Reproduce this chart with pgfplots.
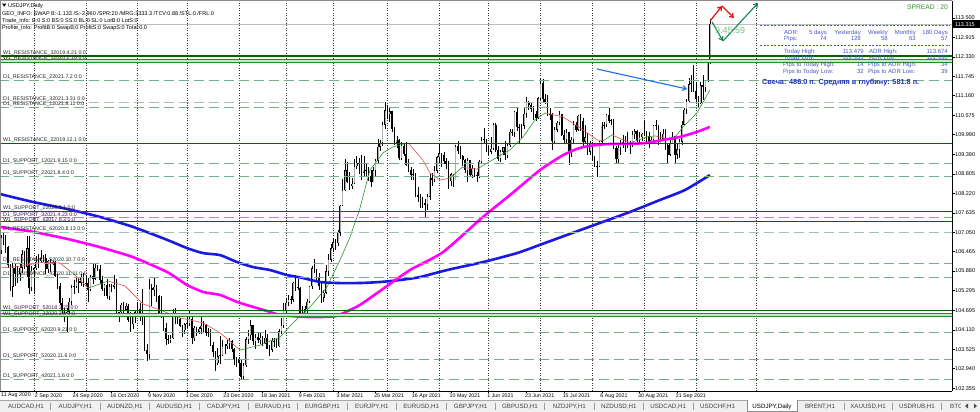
\documentclass[border=0pt]{standalone}
\usepackage{fontspec}
\setmainfont{Liberation Sans}
\usepackage{pgfplots}
\usepackage{pgfplotstable}
\pgfplotsset{compat=1.18}
\usetikzlibrary{arrows.meta}

\definecolor{wone}{RGB}{0,100,0}
\definecolor{wband}{RGB}{200,230,200}
\definecolor{wbandline}{RGB}{40,140,40}
\definecolor{done}{RGB}{115,175,135}
\definecolor{maBlue}{RGB}{25,25,225}
\definecolor{maMag}{RGB}{255,0,255}
\definecolor{thinRed}{RGB}{225,80,80}
\definecolor{thinGreen}{RGB}{40,150,40}
\definecolor{panel}{RGB}{75,90,195}
\definecolor{candleTxt}{RGB}{30,45,185}
\definecolor{spread}{RGB}{50,150,50}
\definecolor{timer}{RGB}{120,195,130}
\definecolor{tabbg}{RGB}{240,240,240}
\definecolor{arrowBlue}{RGB}{30,110,235}
\definecolor{arrowRed}{RGB}{225,20,20}
\definecolor{arrowGreen}{RGB}{25,130,80}
\definecolor{lbltxt}{RGB}{35,35,35}
\definecolor{bull}{RGB}{175,175,175}

\newcommand{\fs}[1]{\fontsize{#1}{#1}\selectfont}

\tikzset{
  w1/.style={color=wone, line width=1.1pt},
  wb/.style={color=wbandline, line width=0.8pt},
  d1/.style={color=done, line width=0.9pt, dash pattern=on 10pt off 5pt},
  lbl/.style={anchor=base west, inner sep=0pt, font=\fs{5.3}, text=lbltxt},
  pnl/.style={inner sep=0pt, font=\fs{6}, text=panel},
  tab/.style={anchor=base, inner sep=0pt, font=\fs{6.2}, text=black!75},
}

% USDJPY daily, 11 Aug 2020 .. 11 Oct 2021 (bar index, open, high, low, close)
\pgfplotstableread{
i o h l c
0 105.93 106.68 105.85 106.49
1 106.49 106.98 106.38 106.88
2 106.88 107.05 106.67 106.92
3 106.92 106.96 106.43 106.60
4 106.60 106.62 105.98 106.05
5 106.05 106.09 105.27 105.40
6 105.40 106.13 105.10 105.98
7 105.98 106.08 105.42 105.78
8 105.78 106.04 105.53 105.80
9 105.80 106.11 105.58 105.98
10 105.98 106.50 105.82 106.38
11 106.38 106.47 105.94 106.01
12 106.01 106.94 105.70 106.57
13 106.57 106.95 105.20 105.37
14 105.37 106.02 105.28 105.90
15 105.90 106.00 105.19 105.96
16 105.96 106.34 105.91 106.16
17 106.16 106.38 105.98 106.18
18 106.18 106.51 106.13 106.26
19 106.26 106.35 106.15 106.26
20 106.26 106.38 105.78 105.93
21 105.93 106.21 105.81 106.19
22 106.19 106.25 105.85 106.15
23 106.15 106.18 106.05 106.14
24 106.14 106.17 105.71 105.72
25 105.72 105.79 105.34 105.44
26 105.44 105.51 104.86 104.92
27 104.92 105.06 104.52 104.72
28 104.72 104.77 104.36 104.57
29 104.57 104.77 104.00 104.66
30 104.66 105.08 104.63 104.95
31 104.95 105.46 104.86 105.39
32 105.39 105.61 105.19 105.42
33 105.42 105.70 105.36 105.58
34 105.58 105.68 105.22 105.53
35 105.53 105.80 105.44 105.70
36 105.70 105.81 105.41 105.48
37 105.48 105.72 105.39 105.52
38 105.52 105.68 104.94 105.32
39 105.32 105.77 105.29 105.73
40 105.73 106.11 105.49 105.65
41 105.65 106.11 105.62 105.98
42 105.98 106.05 105.88 105.95
43 105.95 106.06 105.50 105.61
44 105.61 105.74 105.29 105.35
45 105.35 105.50 105.14 105.47
46 105.47 105.63 105.04 105.12
47 105.12 105.48 105.02 105.40
48 105.40 105.50 105.25 105.40
49 105.40 105.75 105.33 105.47
50 105.47 105.63 104.54 104.55
51 104.55 104.64 104.34 104.64
52 104.64 104.93 104.62 104.87
53 104.87 104.95 104.58 104.71
54 104.71 104.93 104.70 104.84
55 104.84 104.88 104.36 104.42
56 104.42 104.66 104.05 104.28
57 104.28 104.59 104.14 104.62
58 104.62 104.68 104.31 104.66
59 104.66 104.94 104.52 104.73
60 104.73 104.92 104.37 104.51
61 104.51 105.34 104.25 104.53
62 104.53 104.59 103.46 103.51
63 103.51 103.67 103.18 103.38
64 103.38 105.65 103.19 105.36
65 105.36 105.48 104.84 105.30
66 105.30 105.68 105.12 105.41
67 105.41 105.46 104.94 105.13
68 105.13 105.17 104.58 104.63
69 104.63 105.14 104.48 104.58
70 104.58 104.62 104.07 104.18
71 104.18 104.33 103.65 103.82
72 103.82 103.96 103.69 103.80
73 103.80 103.95 103.70 103.86
74 103.86 104.74 103.83 104.56
75 104.56 104.76 104.29 104.46
76 104.46 104.59 104.30 104.44
77 104.44 104.47 104.20 104.24
78 104.24 104.27 103.88 104.09
79 104.09 104.32 103.97 104.28
80 104.28 104.55 104.17 104.31
81 104.31 104.69 104.22 104.45
82 104.45 104.52 103.68 103.86
83 103.86 104.22 103.78 104.17
84 104.17 104.21 103.93 104.05
85 104.05 104.21 103.98 104.14
86 104.14 104.54 103.99 104.23
87 104.23 104.38 104.03 104.27
88 104.27 104.30 103.92 104.01
89 104.01 104.17 103.89 104.05
90 104.05 104.14 103.62 103.65
91 103.65 103.75 103.29 103.45
92 103.45 103.48 102.88 103.11
93 103.11 103.57 103.06 103.32
94 103.32 103.91 103.09 103.34
95 103.34 103.80 103.31 103.62
96 103.62 103.69 103.38 103.62
97 103.62 103.80 103.52 103.69
98 103.69 103.87 103.53 103.78
99 103.78 103.81 103.45 103.54
100 103.54 103.56 103.04 103.21
101 103.21 103.28 102.98 103.23
102 103.23 103.28 102.71 103.12
103 103.12 103.19 102.61 102.70
104 102.70 103.10 102.59 103.04
105 103.04 103.88 102.98 103.82
106 103.82 104.09 103.68 103.94
107 103.94 104.40 103.81 104.25
108 104.25 104.26 103.64 103.76
109 103.76 103.97 103.54 103.88
110 103.88 104.05 103.71 103.79
111 103.79 104.00 103.67 103.87
112 103.87 103.92 103.62 103.70
113 103.70 104.09 103.68 103.87
114 103.87 103.98 103.54 103.54
115 103.54 103.66 103.33 103.51
116 103.51 103.86 103.43 103.78
117 103.78 103.85 103.60 103.75
118 103.75 103.86 103.55 103.61
119 103.61 104.13 103.59 104.06
120 104.06 104.46 103.98 104.23
121 104.23 104.93 104.17 104.68
122 104.68 105.07 104.63 104.93
123 104.93 105.15 104.84 105.03
124 105.03 105.12 104.90 105.01
125 105.01 105.56 104.94 105.53
126 105.53 105.77 105.28 105.39
127 105.39 105.65 105.30 105.37
128 105.37 105.40 104.55 104.60
129 104.60 104.82 104.52 104.57
130 104.57 104.84 104.50 104.73
131 104.73 105.04 104.63 104.95
132 104.95 105.44 104.93 105.42
133 105.42 106.04 105.33 105.97
134 105.97 106.23 105.81 105.88
135 105.88 105.95 105.59 105.69
136 105.69 105.81 105.31 105.43
137 105.43 105.56 104.92 105.07
138 105.07 105.31 104.96 105.22
139 105.22 106.06 105.19 105.87
140 105.87 106.39 105.73 106.22
141 106.22 106.69 106.15 106.57
142 106.57 106.88 106.44 106.75
143 106.75 106.85 106.51 106.72
144 106.72 107.12 106.62 107.03
145 107.03 107.88 106.94 107.85
146 107.85 108.64 107.83 108.31
147 108.31 109.24 108.29 108.92
148 108.92 109.15 108.54 108.57
149 108.57 108.86 108.33 108.44
150 108.44 108.69 108.35 108.51
151 108.51 109.24 108.50 109.04
152 109.04 109.35 108.95 109.14
153 109.14 109.28 108.81 109.12
154 109.12 109.38 108.61 108.84
155 108.84 109.35 108.74 108.93
156 108.93 109.12 108.75 108.88
157 108.88 109.01 108.60 108.73
158 108.73 108.93 108.41 108.56
159 108.56 109.01 108.55 108.91
160 108.91 109.26 108.75 109.20
161 109.20 109.85 109.09 109.62
162 109.62 109.84 109.50 109.75
163 109.75 110.38 109.66 110.28
164 110.28 110.97 110.15 110.72
165 110.72 110.88 110.47 110.60
166 110.60 110.78 110.36 110.69
167 110.69 110.70 110.08 110.17
168 110.17 110.22 109.68 109.74
169 109.74 109.96 109.60 109.84
170 109.84 109.85 109.23 109.27
171 109.27 109.78 109.21 109.65
172 109.65 109.75 109.33 109.40
173 109.40 109.77 109.03 109.07
174 109.07 109.26 108.87 108.92
175 108.92 109.00 108.61 108.77
176 108.77 108.96 108.61 108.79
177 108.79 108.83 108.10 108.16
178 108.16 108.40 107.97 108.11
179 108.11 108.19 107.78 108.09
180 108.09 108.12 107.78 107.94
181 107.94 108.04 107.48 107.88
182 107.88 108.19 107.71 108.12
183 108.12 108.80 108.03 108.69
184 108.69 108.83 108.45 108.63
185 108.63 109.03 108.55 108.90
186 108.90 109.35 108.83 109.30
187 109.30 109.70 109.13 109.43
188 109.43 109.44 109.00 109.37
189 109.37 109.46 109.09 109.19
190 109.19 109.28 108.96 109.10
191 109.10 109.20 108.34 108.59
192 108.59 108.84 108.43 108.80
193 108.80 108.81 108.40 108.62
194 108.62 109.69 108.61 109.64
195 109.64 109.79 109.40 109.49
196 109.49 109.65 109.24 109.35
197 109.35 109.38 109.05 109.21
198 109.21 109.25 108.84 108.91
199 108.91 109.29 108.56 109.22
200 109.22 109.23 108.73 108.77
201 108.77 109.07 108.67 108.97
202 108.97 108.99 108.70 108.78
203 108.78 108.87 108.56 108.74
204 108.74 109.22 108.67 109.17
205 109.17 109.93 109.11 109.82
206 109.82 110.20 109.72 109.85
207 109.85 109.87 109.45 109.56
208 109.56 109.66 109.38 109.47
209 109.47 109.91 109.41 109.56
210 109.56 110.33 109.54 110.29
211 110.29 110.33 109.45 109.53
212 109.53 109.64 109.20 109.26
213 109.26 109.53 109.17 109.47
214 109.47 109.61 109.37 109.61
215 109.61 109.80 109.22 109.37
216 109.37 109.75 109.28 109.67
217 109.67 110.17 109.62 110.07
218 110.07 110.16 109.95 110.06
219 110.06 110.71 109.93 110.68
220 110.68 110.82 110.11 110.22
221 110.22 110.32 109.71 110.21
222 110.21 110.30 109.90 110.25
223 110.25 110.79 110.17 110.61
224 110.61 111.11 110.50 110.97
225 110.97 111.01 110.74 110.87
226 110.87 110.97 110.66 110.76
227 110.76 110.84 110.43 110.61
228 110.61 110.69 110.41 110.50
229 110.50 111.11 110.47 111.09
230 111.09 111.66 111.03 111.53
231 111.53 111.66 110.96 111.06
232 111.06 111.20 110.90 110.98
233 110.98 111.17 110.56 110.61
234 110.61 110.78 110.44 110.62
235 110.62 110.64 109.53 109.79
236 109.79 110.21 109.73 110.13
237 110.13 110.40 110.07 110.35
238 110.35 110.70 110.27 110.60
239 110.60 110.62 109.95 109.98
240 109.98 110.12 109.72 109.83
241 109.83 110.17 109.72 110.06
242 110.06 110.08 109.07 109.46
243 109.46 109.91 109.31 109.83
244 109.83 110.40 109.75 110.29
245 110.29 110.38 110.06 110.14
246 110.14 110.59 110.09 110.55
247 110.55 110.62 110.09 110.39
248 110.39 110.49 109.62 109.77
249 109.77 110.27 109.70 109.91
250 109.91 110.03 109.36 109.47
251 109.47 109.80 109.36 109.72
252 109.72 109.76 109.19 109.29
253 109.29 109.34 109.00 109.05
254 109.05 109.20 108.72 109.04
255 109.04 109.79 109.02 109.78
256 109.78 110.37 109.69 110.25
257 110.25 110.37 110.17 110.28
258 110.28 110.61 110.21 110.58
259 110.58 110.80 110.33 110.41
260 110.41 110.46 110.28 110.42
261 110.42 110.46 109.55 109.59
262 109.59 109.65 109.11 109.24
263 109.24 109.71 109.13 109.60
264 109.60 109.83 109.38 109.76
265 109.76 109.97 109.60 109.71
266 109.71 109.95 109.47 109.79
267 109.79 110.08 109.60 109.71
268 109.71 109.81 109.40 109.70
269 109.70 110.09 109.63 110.00
270 110.00 110.15 109.86 110.09
271 110.09 110.12 109.77 109.82
272 109.82 110.08 109.73 109.91
273 109.91 110.03 109.79 110.02
274 110.02 110.40 109.94 110.02
275 110.02 110.09 109.77 109.95
276 109.95 110.07 109.59 109.71
277 109.71 109.91 109.70 109.83
278 109.83 110.27 109.78 110.27
279 110.27 110.44 110.12 110.25
280 110.25 110.27 109.67 109.72
281 109.72 110.08 109.70 109.87
282 109.87 110.15 109.87 110.01
283 110.01 110.15 109.54 109.68
284 109.68 109.70 109.11 109.38
285 109.38 109.87 109.34 109.71
286 109.71 110.07 109.71 109.94
287 109.94 109.96 109.12 109.38
288 109.38 109.74 109.24 109.55
289 109.55 109.86 109.27 109.77
290 109.77 110.40 109.69 110.29
291 110.29 110.79 110.29 110.73
292 110.73 111.06 110.61 111.00
293 111.00 111.68 110.96 111.51
294 111.51 111.78 111.27 111.55
295 111.55 112.08 111.26 111.29
296 111.29 111.58 110.97 111.05
297 111.05 111.16 110.82 110.93
298 110.93 111.56 110.91 111.47
299 111.47 111.79 111.04 111.42
300 111.42 111.63 111.28 111.61
301 111.61 112.25 111.58 112.21
302 112.21 113.48 112.10 113.32
}\candles

\begin{document}
\begin{tikzpicture}
\useasboundingbox (0,0) rectangle (980pt,412pt);
\fill[white] (0,0) rectangle (980pt,412pt);

\begin{axis}[
  at={(0pt,21pt)}, anchor=south west,
  scale only axis, width=952pt, height=390pt,
  xmin=0.594, xmax=404.66, ymin=102.268, ymax=114.012,
  axis x line=bottom, axis y line=right,
  axis line style={black, line width=0.6pt, -},
  tick align=outside, major tick length=2.5pt,
  tick style={black, line width=0.5pt},
  xtick={16,32,48,64,80,96,112,128,144,160,176,192,208,224,240,256,272,288},
  xticklabels={2 Sep 2020,24 Sep 2020,16 Oct 2020,9 Nov 2020,1 Dec 2020,23 Dec 2020,18 Jan 2021,9 Feb 2021,3 Mar 2021,25 Mar 2021,16 Apr 2021,10 May 2021,1 Jun 2021,23 Jun 2021,15 Jul 2021,6 Aug 2021,30 Aug 2021,21 Sep 2021},
  xticklabel style={anchor=north west, xshift=-2pt, yshift=0.5pt, inner sep=0.5pt, font=\fs{5.3}},
  ytick={113.5,112.915,112.33,111.745,111.16,110.575,109.99,109.39,108.805,108.22,107.635,107.05,106.465,105.88,105.295,104.695,104.11,103.525,102.94,102.355},
  yticklabels={113.500,112.915,112.330,111.745,111.160,110.575,109.990,109.390,108.805,108.220,107.635,107.050,106.465,105.880,105.295,104.695,104.110,103.525,102.940,102.355},
  yticklabel style={anchor=west, inner sep=0.5pt, font=\fs{5.5}},
  extra x ticks={15,37,59,80,102,122,142,165,187,208,230,252,274,296,321.5},
  extra x tick labels={},
  extra x tick style={grid=major, major tick length=0pt,
    major grid style={black!80, line width=0.45pt, dash pattern=on 0.8pt off 1.7pt}},
]
% bid line
\addplot[black!25, line width=0.6pt] coordinates {(0,113.315) (406,113.315)};

% candles: wicks, bodies, light interior of bullish bodies
\addplot[draw=none, mark=none, error bars/.cd, y dir=minus, y explicit, error mark=none,
  error bar style={draw=black, line width=0.5pt}]
  table[x=i, y=h, y error minus expr={\thisrow{h}-\thisrow{l}}] {\candles};
\addplot[draw=none, mark=none, error bars/.cd, y dir=minus, y explicit, error mark=none,
  error bar style={draw=black, line width=1.6pt}]
  table[x=i, y expr={max(\thisrow{o},\thisrow{c})}, y error minus expr={abs(\thisrow{o}-\thisrow{c})}] {\candles};
\addplot[draw=none, mark=none, restrict expr to domain={\thisrow{c}-\thisrow{o}}{0.045:100},
  error bars/.cd, y dir=minus, y explicit, error mark=none,
  error bar style={draw=bull, line width=0.6pt}]
  table[x=i, y expr={\thisrow{c}-0.015}, y error minus expr={\thisrow{c}-\thisrow{o}-0.03}] {\candles};

% short moving average, red when falling, green when rising
\addplot[thinRed, line width=0.6pt] coordinates {(0.6,105.97) (9.1,106.03) (19.7,106.15) (26.1,106.12) (32.4,105.76) (38.0,105.37)};
\addplot[thinGreen, line width=0.6pt] coordinates {(38.0,105.37) (43.0,105.49) (46.4,105.58)};
\addplot[thinRed, line width=0.6pt] coordinates {(46.4,105.58) (53.7,105.43) (61.3,104.89) (68.5,104.71) (77.0,104.47) (86.8,104.32) (94.0,104.02) (102.5,103.50)};
\addplot[thinGreen, line width=0.6pt] coordinates {(102.5,103.50) (111.0,103.65) (119.4,103.89) (125.0,104.32) (132.2,104.80) (139.4,105.40) (144.9,106.21) (149.2,106.91) (153.4,107.78) (157.6,108.92) (163.2,109.44) (167.4,109.62) (173.8,109.74)};
\addplot[thinRed, line width=0.6pt] coordinates {(173.8,109.74) (180.1,109.22) (183.1,108.83) (187.4,108.62) (191.6,108.68)};
\addplot[thinGreen, line width=0.6pt] coordinates {(191.6,108.68) (196.7,109.00)};
\addplot[thinRed, line width=0.6pt] coordinates {(196.7,109.00) (203.1,108.95)};
\addplot[thinGreen, line width=0.6pt] coordinates {(203.1,108.95) (211.6,109.31) (217.1,109.53) (222.6,109.92) (227.7,110.43) (231.9,110.64)};
\addplot[thinRed, line width=0.6pt] coordinates {(231.9,110.64) (239.6,110.52) (246.8,110.19) (254.0,109.83) (256.5,109.80)};
\addplot[thinGreen, line width=0.6pt] coordinates {(256.5,109.80) (260.4,109.98)};
\addplot[thinRed, line width=0.6pt] coordinates {(260.4,109.98) (268.0,109.74)};
\addplot[thinGreen, line width=0.6pt] coordinates {(268.0,109.74) (275.2,109.92) (278.6,109.95)};
\addplot[thinRed, line width=0.6pt] coordinates {(278.6,109.95) (286.2,109.83)};
\addplot[thinGreen, line width=0.6pt] coordinates {(286.2,109.83) (290.5,110.22) (296.4,110.64) (301.9,111.33)};

% long moving averages
\addplot[maBlue, line width=2.6pt, smooth, tension=0.4] coordinates {
(0.6,108.20) (14.6,107.96) (29.0,107.75) (43.0,107.51) (57.0,107.21) (71.5,106.82) (80.0,106.57)
(86.8,106.42) (94.0,106.36) (101.2,106.15) (108.0,106.00) (115.2,105.91) (122.4,105.76) (129.2,105.67)
(136.4,105.55) (143.6,105.52) (153.4,105.52) (161.9,105.55) (170.4,105.61) (178.9,105.70) (190.3,105.91)
(205.6,106.15) (220.0,106.42) (229.8,106.67) (242.5,107.00) (255.3,107.33) (268.0,107.66) (280.7,108.02)
(291.3,108.32) (301.9,108.77)};
\addplot[maMag, line width=2.6pt, smooth, tension=0.4] coordinates {
(0.6,107.21) (14.6,107.06) (29.0,106.85) (43.0,106.60) (57.0,106.30) (71.5,105.85) (80.0,105.46)
(86.8,105.25) (94.0,105.16) (101.2,104.95) (108.0,104.80) (115.2,104.65) (119.4,104.56) (129.2,104.50)
(139.4,104.50) (143.6,104.53) (149.2,104.71) (153.4,104.86) (161.9,105.28) (174.6,105.91) (188.6,106.45)
(205.6,107.51) (217.1,108.17) (229.8,108.92) (239.6,109.37) (246.8,109.59) (254.0,109.68) (260.8,109.71)
(268.0,109.71) (275.2,109.74) (282.0,109.83) (289.2,109.92) (296.4,110.07) (301.9,110.22)};

% support / resistance levels
\addplot[w1] coordinates {(0,112.356) (406,112.356)};
\addplot[fill=wband, draw=none] coordinates {(0,112.25) (406,112.25) (406,112.175) (0,112.175)};
\addplot[wb] coordinates {(0,112.25) (406,112.25)};
\addplot[wb] coordinates {(0,112.175) (406,112.175)};
\addplot[d1] coordinates {(0,111.633) (406,111.633)};
\addplot[d1, done!70] coordinates {(0,110.97) (406,110.97)};
\addplot[d1] coordinates {(0,110.82) (406,110.82)};
\addplot[w1] coordinates {(0,109.715) (406,109.715)};
\addplot[d1] coordinates {(0,109.11) (406,109.11)};
\addplot[d1] coordinates {(0,108.72) (406,108.72)};
\addplot[w1] coordinates {(0,107.67) (406,107.67)};
\addplot[d1] coordinates {(0,107.48) (406,107.48)};
\addplot[w1] coordinates {(0,107.36) (406,107.36)};
\addplot[d1, done!70] coordinates {(0,107.05) (406,107.05)};
\addplot[d1] coordinates {(0,106.11) (406,106.11)};
\addplot[d1] coordinates {(0,105.68) (406,105.68)};
\addplot[w1] coordinates {(0,104.68) (406,104.68)};
\addplot[fill=wband, draw=none] coordinates {(0,104.60) (406,104.60) (406,104.50) (0,104.50)};
\addplot[wb] coordinates {(0,104.60) (406,104.60)};
\addplot[wb] coordinates {(0,104.50) (406,104.50)};
\addplot[d1] coordinates {(0,104.02) (406,104.02)};
\addplot[d1] coordinates {(0,103.22) (406,103.22)};
\addplot[d1] coordinates {(0,102.62) (406,102.62)};
\end{axis}

% everything below in screen pixels, origin top left
\begin{scope}[x=1pt, y=-1pt, yshift=412pt]
\draw[black!45, line width=0.5pt] (0.25,391) -- (0.25,0.4) -- (952,0.4);

% level labels
\node[lbl] at (3,54.3) {W1\_RESISTANCE\_32019.4.21 0:0};
\node[lbl] at (3,59.8) {W1\_RESISTANCE\_12020.2.16 0:0};
\node[lbl] at (3,78.3) {D1\_RESISTANCE\_22021.7.2 0:0};
\node[lbl] at (3,100.3) {D1\_RESISTANCE\_32021.3.31 0:0};
\node[lbl] at (3,105.5) {D1\_RESISTANCE\_12021.8.11 0:0};
\node[lbl] at (3,142.0) {W1\_RESISTANCE\_22019.12.1 0:0};
\node[lbl] at (3,162.2) {D1\_SUPPORT\_12021.9.15 0:0};
\node[lbl] at (3,175.0) {D1\_SUPPORT\_22021.8.4 0:0};
\node[lbl] at (3,210.0) {W1\_SUPPORT\_22020.3.1 0:0};
\node[lbl] at (3,216.2) {D1\_SUPPORT\_32021.4.23 0:0};
\node[lbl] at (3,221.5) {W1\_SUPPORT\_62017.9.3 0:0};
\node[lbl] at (3,230.5) {D1\_RESISTANCE\_62020.8.13 0:0};
\node[lbl] at (3,261.7) {D1\_RESISTANCE\_52020.10.7 0:0};
\node[lbl] at (3,276.0) {D1\_RESISTANCE\_42020.11.11 0:0};
\node[lbl] at (3,309.3) {W1\_SUPPORT\_52018.3.25 0:0};
\node[lbl] at (3,315.8) {W1\_SUPPORT\_32020.3.8 0:0};
\node[lbl] at (3,331.2) {D1\_SUPPORT\_62020.9.21 0:0};
\node[lbl] at (3,357.8) {D1\_SUPPORT\_52020.11.6 0:0};
\node[lbl] at (3,377.7) {D1\_SUPPORT\_42021.1.6 0:0};

% header text
\fill[black] (2,3.6) -- (6.4,3.6) -- (4.2,6.6) -- cycle;
\node[anchor=base west, inner sep=0pt, font=\fs{5.5}] at (8,7.6) {USDJPY,Daily};
\node[anchor=base west, inner sep=0pt, font=\fs{5.5}] at (2,15.2) {GEO\_INFO: SWAP B:-1.133 /S:-2.960 /SPR:20 /MRG:3333.3 /TCV:0.88 /STL:0 /FRL:0};
\node[anchor=base west, inner sep=0pt, font=\fs{5.5}] at (2,22.2) {Trade\_Info: B:0 S:0 BS:0 SS:0 BL:0 SL:0 LotB:0 LotS:0};
\node[anchor=base west, inner sep=0pt, font=\fs{5.5}] at (2,29.2) {Profite\_Info: ProfitB:0 SwapB:0 ProfitS:0 SwapS:0 Total:0.0};

% drawn arrows
\draw[arrowBlue, line width=1.1pt, -{Straight Barb[length=3.5pt,width=5pt]}] (597,69) -- (687,89);
\draw[arrowRed, line width=1.2pt, -{Straight Barb[length=3.5pt,width=5pt]}] (710,21) -- (722,6);
\draw[arrowRed, line width=1.2pt, -{Straight Barb[length=3.5pt,width=5pt]}] (722,6) -- (734,18);
\draw[arrowGreen, line width=1.1pt, -{Straight Barb[length=3.5pt,width=5pt]}] (712,22) -- (723,41);
\draw[arrowGreen, line width=1.1pt, -{Straight Barb[length=3.5pt,width=5pt]}] (723,41) -- (758,3);
\node[anchor=base west, inner sep=0pt, font=\fs{9}, text=timer] at (715,34) {9:45:59};

% info panel
\node[anchor=base east, inner sep=0pt, font=\fs{6.7}, text=spread] at (948,10) {SPREAD : 20};
\draw[panel, line width=0.5pt, dash pattern=on 2pt off 1.5pt] (760,25) -- (950,25);
\draw[panel, line width=0.5pt, dash pattern=on 2pt off 1.5pt] (760,45) -- (950,45);
\node[pnl, anchor=base west] at (784,35) {ADR:};
\node[pnl, anchor=base east] at (827,35) {5 days};
\node[pnl, anchor=base east] at (861,35) {Yesterday};
\node[pnl, anchor=base east] at (888,35) {Weekly};
\node[pnl, anchor=base east] at (916,35) {Monthly};
\node[pnl, anchor=base east] at (948,35) {180 Days};
\node[pnl, anchor=base west] at (784,40.8) {Pips:};
\node[pnl, anchor=base east] at (827,40.8) {74};
\node[pnl, anchor=base east] at (861,40.8) {128};
\node[pnl, anchor=base east] at (888,40.8) {58};
\node[pnl, anchor=base east] at (916,40.8) {63};
\node[pnl, anchor=base east] at (948,40.8) {57};
\node[pnl, anchor=base west] at (784,53.8) {Today High:};
\node[pnl, anchor=base east] at (864,53.8) {113.479};
\node[pnl, anchor=base west] at (869,53.8) {ADR High:};
\node[pnl, anchor=base east] at (948,53.8) {113.674};
\node[pnl, anchor=base west] at (784,59.5) {Today Low:};
\node[pnl, anchor=base east] at (864,59.5) {112.933};
\node[pnl, anchor=base west] at (869,59.5) {ADR Low:};
\node[pnl, anchor=base east] at (948,59.5) {112.930};
\node[pnl, anchor=base west] at (783,66.3) {Pips to Today High:};
\node[pnl, anchor=base east] at (864,66.3) {14};
\node[pnl, anchor=base west] at (868,66.3) {Pips to ADR High:};
\node[pnl, anchor=base east] at (948,66.3) {34};
\node[pnl, anchor=base west] at (783,73.3) {Pips to Today Low:};
\node[pnl, anchor=base east] at (864,73.3) {32};
\node[pnl, anchor=base west] at (868,73.3) {Pips to ADR Low:};
\node[pnl, anchor=base east] at (948,73.3) {39};
\node[anchor=base west, inner sep=0pt, font=\fs{7.3}\bfseries, text=candleTxt] at (762,84.6) {Свеча: 486.0 п. Средняя в глубину: 581.8 п.};

% current price on the scale
\fill[black] (953,20.3) rectangle (980,28);
\node[anchor=west, inner sep=0.5pt, font=\fs{5.5}, text=white] at (954.5,24.2) {113.315};

% first date label
\node[anchor=north west, inner sep=0.5pt, font=\fs{5.3}] at (0.5,392.4) {11 Aug 2020};

% tabs
\fill[tabbg] (0,400) rectangle (980,412);
\draw[black!35, line width=0.5pt] (0,400) -- (980,400);
\fill[white] (747,399.6) rectangle (797,412);
\draw[black!45, line width=0.5pt] (747,399.6) -- (747,411.6) -- (797,411.6) -- (797,399.6);
\foreach \c/\t in {26/AUDCAD,75.4/AUDJPY,124.8/AUDNZD,174.2/AUDUSD,223.6/CADJPY,273/EURAUD,322.4/EURGBP,371.8/EURJPY,421.2/EURUSD,470.6/GBPJPY,520/GBPUSD,569.4/NZDJPY,618.8/NZDUSD,668.2/USDCAD,717.6/USDCHF,820/BRENT,868/XAUUSD,917/USDRUB}
  {\node[tab] at (\c,409) {\t,H1};}
\node[tab, text=black] at (772,409) {USDJPY,Daily};
\foreach \s in {50.7,100.1,149.5,198.9,248.3,297.7,347.1,396.5,445.9,495.3,544.7,594.1,643.5,692.9,844,892.5,941}
  {\draw[black!40, line width=0.5pt] (\s,403) -- (\s,410);}
\node[tab, anchor=base west] at (950,409) {BTC};
\fill[tabbg] (961,401) rectangle (980,412);
\fill[black!70] (968,403.5) -- (968,408.5) -- (965,406) -- cycle;
\fill[black!70] (974,403.5) -- (974,408.5) -- (977,406) -- cycle;
\end{scope}
\end{tikzpicture}
\end{document}
